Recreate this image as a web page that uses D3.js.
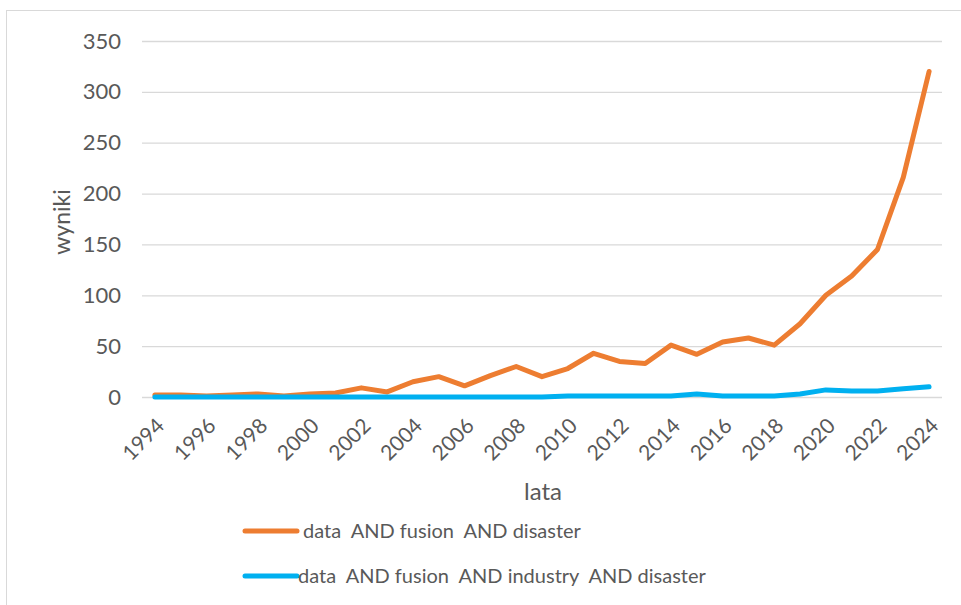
<!DOCTYPE html>
<html>
<head>
<meta charset="utf-8">
<script src="https://cdn.jsdelivr.net/npm/d3@7"></script>
<style>
  html, body { margin: 0; padding: 0; background: #fff; }
  svg text { font-family: Lato, "Open Sans", sans-serif; fill: #595959; white-space: pre; }
</style>
</head>
<body>
<svg id="chart" width="961" height="605"></svg>
<script>
// Years on the category axis
const years = d3.range(1994, 2025).map(String);
// Results per year for each query
const fusionDisaster = [2, 2, 1, 2, 3, 1, 3, 4, 9, 5, 15, 20, 11, 21, 30, 20, 28, 43, 35, 33, 51, 42, 54, 58, 51, 72, 100, 119, 145, 216, 320];
const fusionIndustryDisaster = [0, 0, 0, 0, 0, 0, 0, 0, 0, 0, 0, 0, 0, 0, 0, 0, 1, 1, 1, 1, 1, 3, 1, 1, 1, 3, 7, 6, 6, 8, 10];
const seriesNames = ["data  AND fusion  AND disaster", "data  AND fusion  AND industry  AND disaster"];
const seriesColors = ["#ED7D31", "#00B0F0"];
const yTicks = [0, 50, 100, 150, 200, 250, 300, 350];
const xTickLabels = years.filter((d, i) => i % 2 === 0);

const svg = d3.select("#chart");

// chart frame
svg.append("rect")
  .attr("x", 6.5).attr("y", 10.5)
  .attr("width", 970).attr("height", 620)
  .attr("fill", "none").attr("stroke", "#d9d9d9").attr("stroke-width", 1);

const plot = { left: 142, right: 942, top: 41, bottom: 397 };

const x = d3.scalePoint().domain(years).range([plot.left, plot.right]).padding(0.5);
const y = d3.scaleLinear().domain([0, 350]).range([plot.bottom, plot.top]);

// horizontal gridlines
svg.append("g")
  .selectAll("line")
  .data(yTicks)
  .join("line")
  .attr("x1", plot.left).attr("x2", plot.right)
  .attr("y1", d => y(d) + 0.5).attr("y2", d => y(d) + 0.5)
  .attr("stroke", "#d9d9d9").attr("stroke-width", 1.3);

// y axis labels
const yAxis = d3.axisLeft(y).tickValues(yTicks).tickSize(0).tickPadding(21);
const gy = svg.append("g").attr("transform", `translate(${plot.left},0)`).call(yAxis);
gy.select(".domain").remove();
gy.selectAll("text").style("font-size", "22px").attr("fill", "#595959");

// x axis labels, rotated
const xAxis = d3.axisBottom(x).tickValues(xTickLabels).tickSize(0).tickPadding(0);
const gx = svg.append("g").attr("transform", `translate(0,${plot.bottom})`).call(xAxis);
gx.select(".domain").remove();
gx.selectAll("text")
  .style("font-size", "21px")
  .attr("fill", "#595959")
  .attr("text-anchor", "end")
  .attr("dy", "0.35em")
  .attr("transform", "translate(5,25) rotate(-45)");

// axis titles
svg.append("text")
  .attr("transform", "translate(70,222) rotate(-90)")
  .attr("text-anchor", "middle")
  .style("font-size", "23px")
  .text("wyniki");

svg.append("text")
  .attr("x", 543).attr("y", 500)
  .attr("text-anchor", "middle")
  .style("font-size", "24px")
  .text("lata");

// series lines
const line = d3.line()
  .x((d, i) => x(years[i]))
  .y(d => y(d));

[fusionDisaster, fusionIndustryDisaster].forEach((vals, k) => {
  svg.append("path")
    .datum(vals)
    .attr("d", line)
    .attr("fill", "none")
    .attr("stroke", seriesColors[k])
    .attr("stroke-width", 5)
    .attr("stroke-linejoin", "round")
    .attr("stroke-linecap", "round");
});

// legend
const legendY = [531, 576];
const legendTextX = [303, 298];
seriesNames.forEach((name, k) => {
  svg.append("line")
    .attr("x1", 245).attr("x2", 297)
    .attr("y1", legendY[k]).attr("y2", legendY[k])
    .attr("stroke", seriesColors[k])
    .attr("stroke-width", 5)
    .attr("stroke-linecap", "round");
  svg.append("text")
    .attr("x", legendTextX[k]).attr("y", legendY[k])
    .attr("dy", "0.35em")
    .style("font-size", "20px")
    .text(name);
});
</script>
</body>
</html>
